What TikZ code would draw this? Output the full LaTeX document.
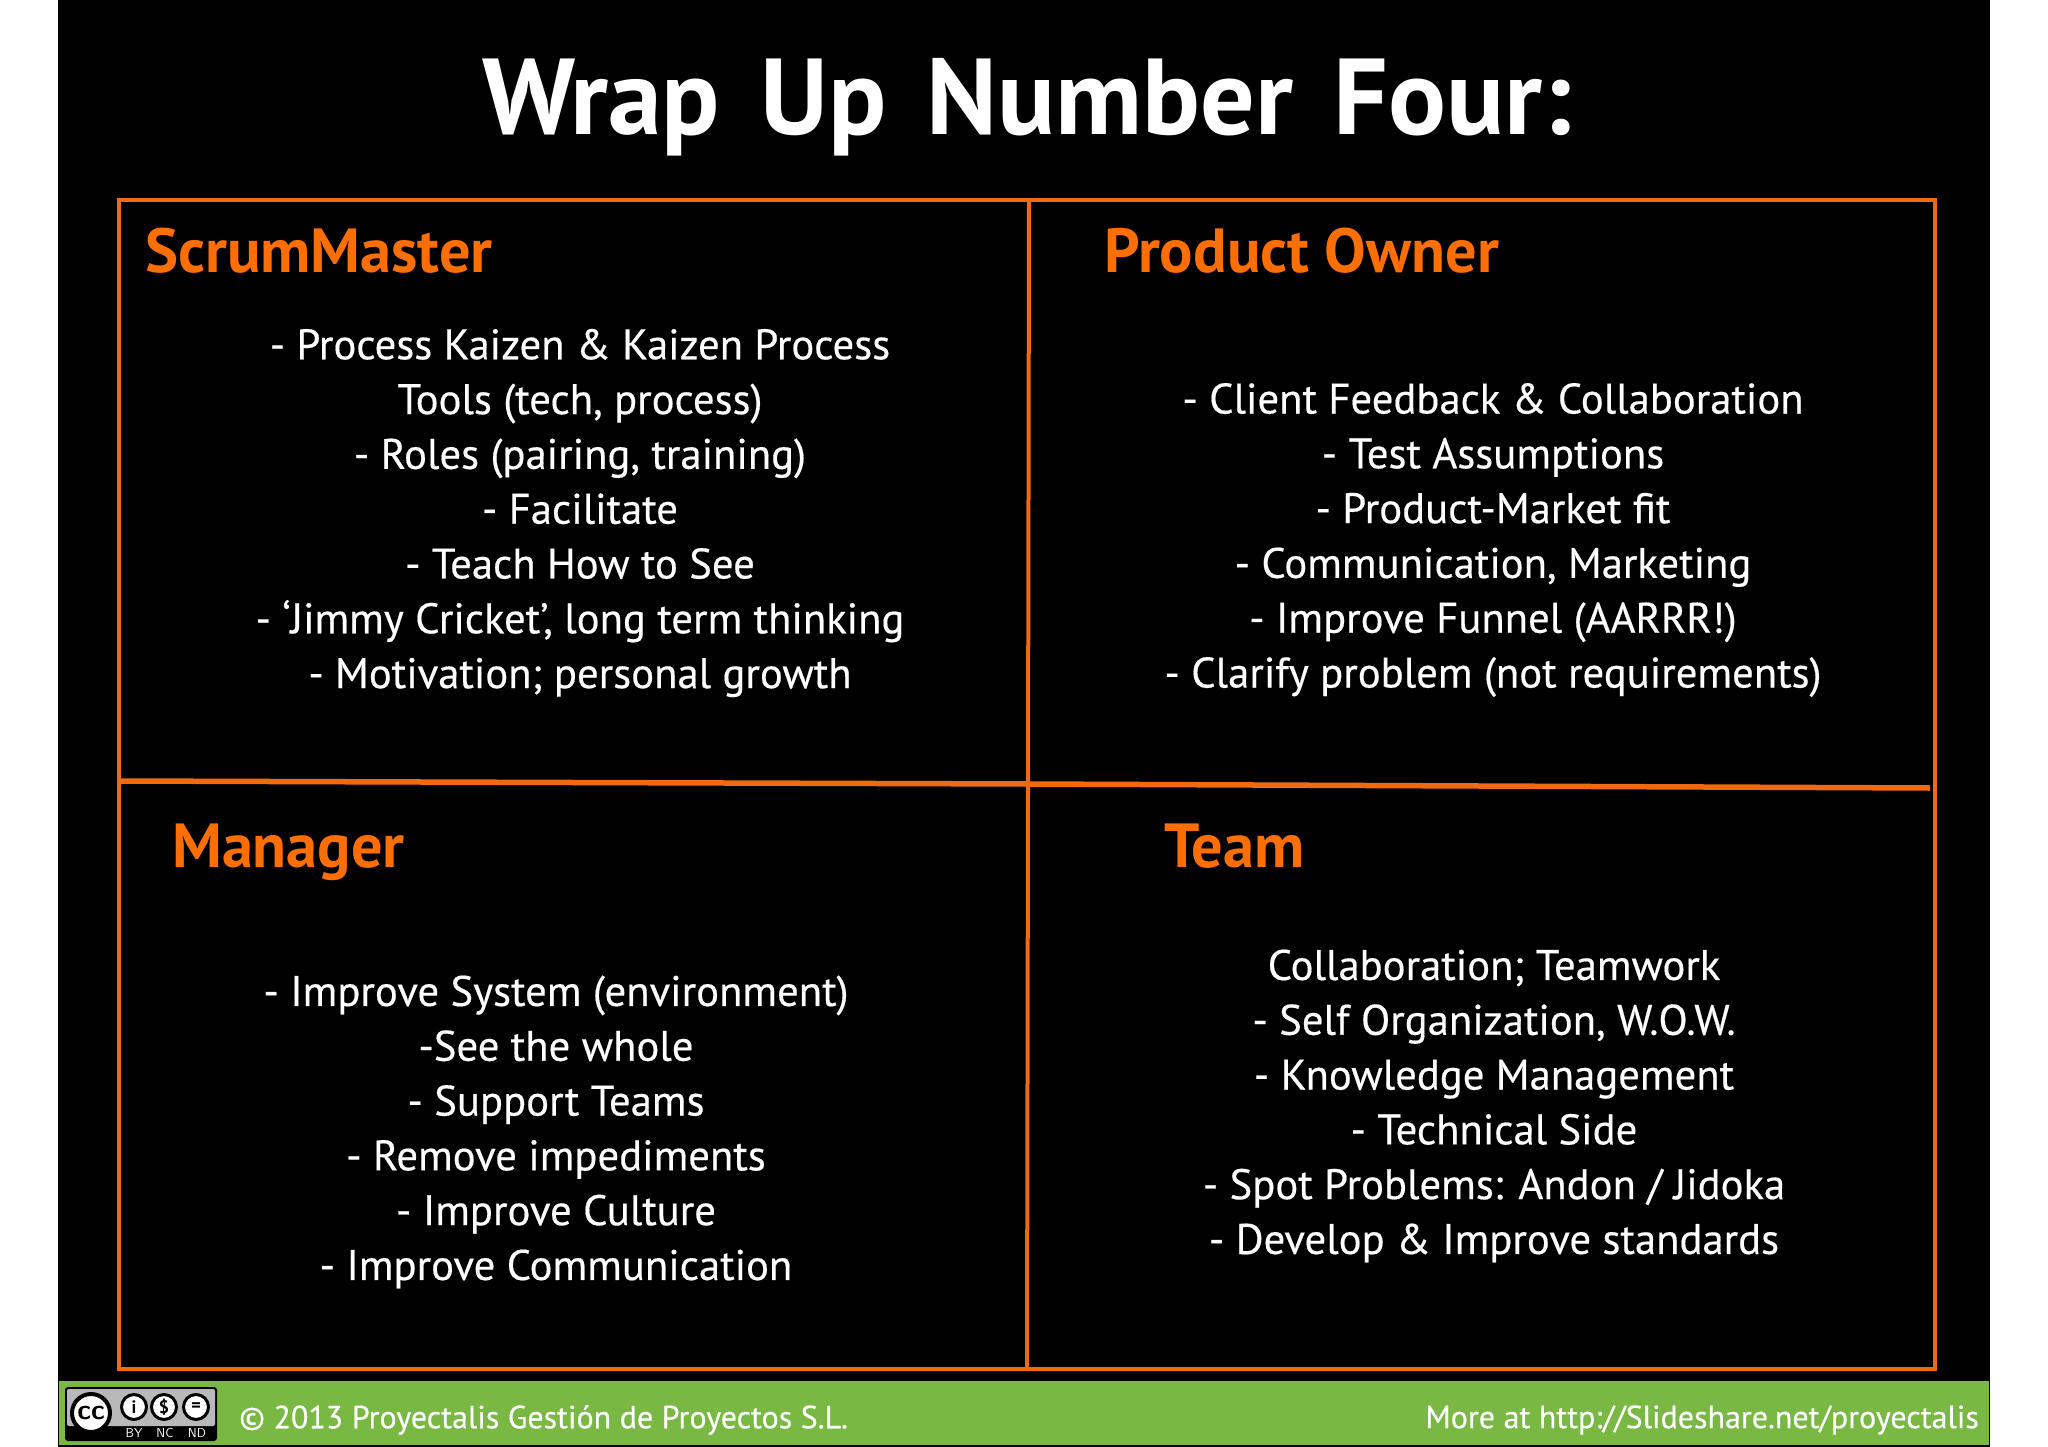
\documentclass[tikz,border=0pt]{standalone}
\usepackage{fontspec}
\setmainfont{PT Sans}
\newfontfamily\medf[FakeBold=0.4]{PT Sans}
\definecolor{fr}{HTML}{F26A0F}
\definecolor{tt}{HTML}{FF6E00}
\definecolor{gr}{HTML}{7AB844}
\tikzset{
 body/.style={text=white,align=center,font=\medf\fontsize{42.7}{54.8}\selectfont,inner sep=0pt},
 head/.style={text=tt,anchor=base west,font=\fontsize{62.3}{70}\selectfont\bfseries,inner sep=0pt},
 foot/.style={text=white,font=\medf\fontsize{32}{36}\selectfont,inner sep=0pt},
 frameline/.style={draw=fr,line width=4pt},
 ccring/.style={draw=black,fill=white,line width=3pt},
 cctext/.style={text=black,font=\sffamily\bfseries\fontsize{13}{14}\selectfont,inner sep=0pt},
 cclabel/.style={text=white,font=\sffamily\fontsize{13}{14}\selectfont,inner sep=0pt}
}
\begin{document}
\begin{tikzpicture}[x=1pt,y=-1pt]
\useasboundingbox (0,0) rectangle (2048,1447);
\fill[white] (0,0) rectangle (2048,1447);
\fill[black] (58,0) rectangle (1990,1447);
\fill[gr] (59,1381) rectangle (1989,1445);
\node[text=white,anchor=base,font=\fontsize{108}{120}\selectfont\bfseries,inner sep=0pt] (title) at (1027,135) {Wrap\hspace{.12em} Up\hspace{.12em} Number\hspace{.12em} Four:};
\draw[frameline] (119,200) rectangle (1935,1369);
\draw[frameline] (1029,200) -- (1027,1369);
\draw[frameline,line width=5.5pt] (119,781) -- (1029,784) -- (1930,788);
\node[head] (sm) at (145,273) {ScrumMaster};
\node[head] (po) at (1104,273) {Product Owner};
\node[head] (mg) at (172,867) {Manager};
\node[head] (tm) at (1164,867) {Team};
\node[body] (smb) at (580,513) {- Process Kaizen \& Kaizen Process\\Tools (tech, process)\\- Roles (pairing, training)\\- Facilitate\\- Teach How to See\\- ‘Jimmy Cricket’, long term thinking\\- Motivation; personal growth};
\node[body] (pob) at (1493,540) {- Client Feedback \& Collaboration\\- Test Assumptions\\- Product-Market fit\\- Communication, Marketing\\- Improve Funnel (AARRR!)\\- Clarify problem (not requirements)};
\node[body] (mgb) at (556,1132) {- Improve System (environment)\\-See the whole\\- Support Teams\\- Remove impediments\\- Improve Culture\\- Improve Communication};
\node[body] (tmb) at (1494,1106) {Collaboration; Teamwork\\- Self Organization, W.O.W.\\- Knowledge Management\\- Technical Side\\- Spot Problems: Andon / Jidoka\\- Develop \& Improve standards};
\node[foot,anchor=west] (fl) at (239,1420) {© 2013 Proyectalis Gestión de Proyectos S.L.};
\node[foot,anchor=east] (fr) at (1979,1420) {More at http://Slideshare.net/proyectalis};
% licence badge
\fill[black,rounded corners=3pt] (65,1387) rectangle (217,1441);
\fill[gray!55,rounded corners=2pt] (67,1389) rectangle (215,1426);
\node[circle,draw=black,fill=white,line width=4pt,minimum size=38pt,inner sep=0pt,text=black,font=\sffamily\bfseries\fontsize{28}{28}\selectfont] (cc) at (91,1413) {cc};
\node[circle,ccring,minimum size=25pt,cctext,font=\bfseries\fontsize{18}{18}\selectfont] (by) at (134,1407) {i};
\node[circle,ccring,minimum size=25pt,cctext,font=\bfseries\fontsize{18}{18}\selectfont] (nc) at (164,1407) {\$};
\node[circle,ccring,minimum size=25pt,cctext,font=\bfseries\fontsize{18}{18}\selectfont] (nd) at (196,1407) {=};
\node[cclabel] (lby) at (134,1433) {BY};
\node[cclabel] (lnc) at (165,1433) {NC};
\node[cclabel] (lnd) at (197,1433) {ND};
\end{tikzpicture}
\end{document}
